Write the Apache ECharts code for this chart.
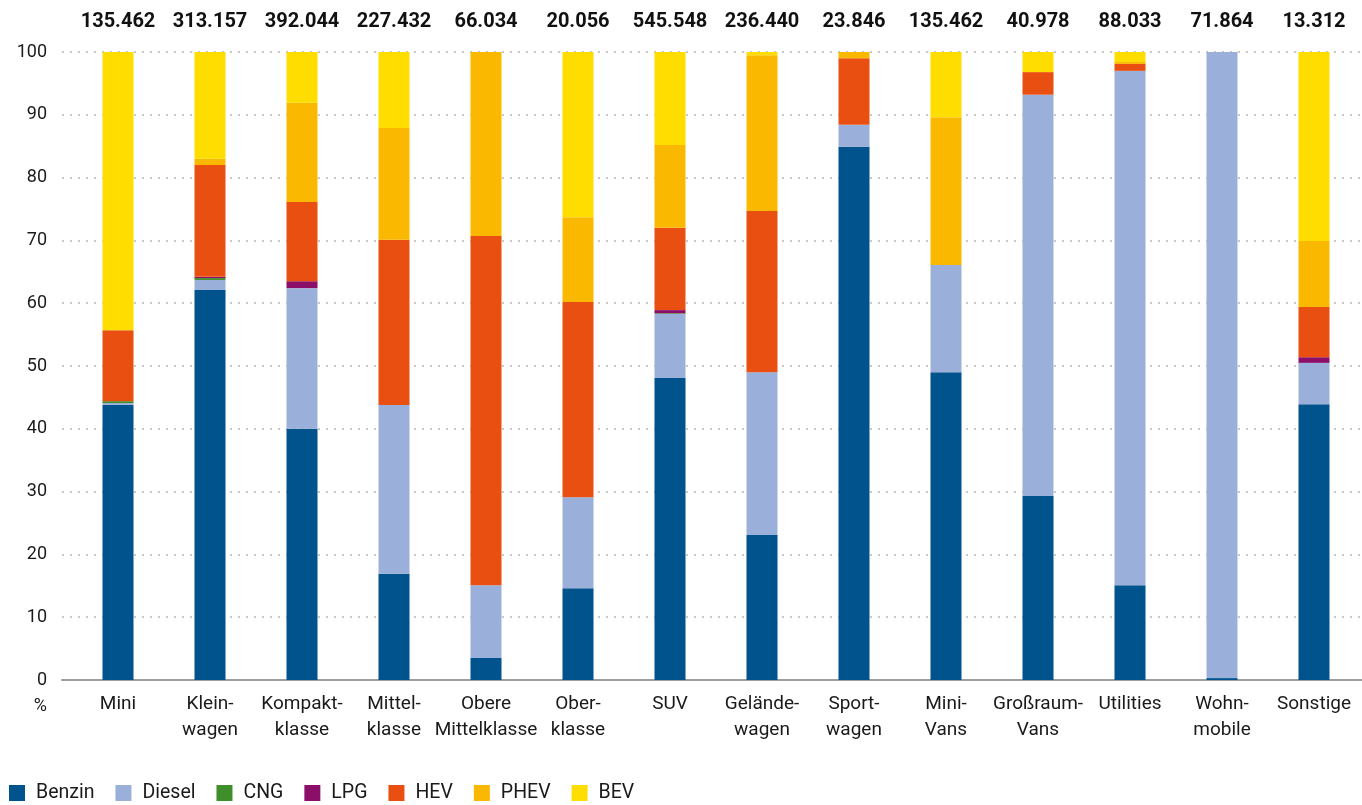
<!DOCTYPE html>
<html><head><meta charset="utf-8">
<script src="https://cdn.jsdelivr.net/npm/echarts@6/dist/echarts.min.js"></script>
<style>html,body{margin:0;padding:0;background:#fff}#c{width:1362px;height:805px}</style>
</head><body><div id="c"></div>
<script>
const categories = ['Mini','Klein-\nwagen','Kompakt-\nklasse','Mittel-\nklasse','Obere\nMittelklasse','Ober-\nklasse','SUV','Gelände-\nwagen','Sport-\nwagen','Mini-\nVans','Großraum-\nVans','Utilities','Wohn-\nmobile','Sonstige'];
const totals = ['135.462','313.157','392.044','227.432','66.034','20.056','545.548','236.440','23.846','135.462','40.978','88.033','71.864','13.312'];
const benzin = [43.8, 62.1, 40.0, 16.9, 3.5, 14.6, 48.1, 23.1, 84.9, 49.0, 29.3, 15.1, 0.3, 43.9];
const diesel = [0.3, 1.6, 22.4, 26.9, 11.6, 14.5, 10.2, 25.9, 3.5, 17.1, 63.9, 81.9, 99.7, 6.6];
const cng    = [0.3, 0.3, 0, 0, 0, 0, 0.1, 0, 0, 0, 0, 0, 0, 0];
const lpg    = [0, 0.2, 1.1, 0, 0, 0, 0.5, 0, 0, 0, 0, 0, 0, 0.9];
const hev    = [11.3, 17.8, 12.6, 26.3, 55.6, 31.1, 13.1, 25.7, 10.6, 0, 3.6, 1.1, 0, 8.0];
const phev   = [0, 1.0, 15.8, 17.8, 29.3, 13.5, 13.2, 24.8, 1.0, 23.5, 0, 0.3, 0, 10.5];
const bev    = [44.3, 17.0, 8.1, 12.1, 0, 26.3, 14.8, 0.5, 0, 10.4, 3.2, 1.6, 0, 30.1];
const seriesNames = ['Benzin','Diesel','CNG','LPG','HEV','PHEV','BEV'];
const seriesData = [benzin, diesel, cng, lpg, hev, phev, bev];
const colors = ['#00538c','#9bafdb','#3e8f2a','#8b0f69','#e94f10','#fbb800','#ffdd00'];
const yTicks = [0,10,20,30,40,50,60,70,80,90,100];
const yUnit = '%';

const font = 'Roboto, "Noto Sans", sans-serif';
const chart = echarts.init(document.getElementById('c'));
chart.setOption({
  animation: false,
  color: colors,
  textStyle: {fontFamily: font},
  grid: [
    {left: 62, right: 0, top: 52, bottom: 125},
    {left: 72, right: 2, top: 52, bottom: 125}
  ],
  xAxis: [
    {gridIndex: 0, type: 'value', min: 0, max: 1,
     axisLine: {show: true, lineStyle: {color: '#9e9e9e', width: 2}},
     axisTick: {show: false}, axisLabel: {show: false}, splitLine: {show: false}},
    {gridIndex: 1, type: 'category', data: categories,
     axisLine: {show: false}, axisTick: {show: false},
     axisLabel: {interval: 0, fontSize: 19, color: '#1a1a1a', lineHeight: 26, margin: 11, fontFamily: font}},
    {gridIndex: 1, type: 'category', data: totals, position: 'top',
     axisLine: {show: false}, axisTick: {show: false},
     axisLabel: {interval: 0, fontSize: 20, fontWeight: 'bold', color: '#111', margin: 20, fontFamily: font}}
  ],
  yAxis: [
    {gridIndex: 0, type: 'value', min: 0, max: 100, interval: 10,
     axisLine: {show: false}, axisTick: {show: false},
     axisLabel: {fontSize: 18, color: '#1a1a1a', margin: 15, fontFamily: font,
       formatter: v => yTicks.includes(v) ? String(v) : ''},
     splitLine: {show: true, lineStyle: {color: '#c8c8c8', width: 2, type: [2, 6]}}},
    {gridIndex: 1, type: 'value', min: 0, max: 100, show: false, splitLine: {show: false}}
  ],
  legend: {
    left: 4, bottom: -3, itemWidth: 16, itemHeight: 16, itemGap: 21, icon: 'rect',
    textStyle: {fontSize: 19.5, color: '#1a1a1a', fontFamily: font, padding: [0, 0, 0, 6]},
    data: seriesNames
  },
  graphic: [
    {type: 'text', x: 47, y: 706, style: {text: yUnit, fontSize: 18, fill: '#1a1a1a', fontFamily: font, align: 'right', verticalAlign: 'middle'}}
  ],
  series: seriesNames.map((n, i) => ({
    name: n, type: 'bar', stack: 'total', xAxisIndex: 1, yAxisIndex: 1,
    barWidth: 31, data: seriesData[i], itemStyle: {color: colors[i]}
  }))
});
</script></body></html>
